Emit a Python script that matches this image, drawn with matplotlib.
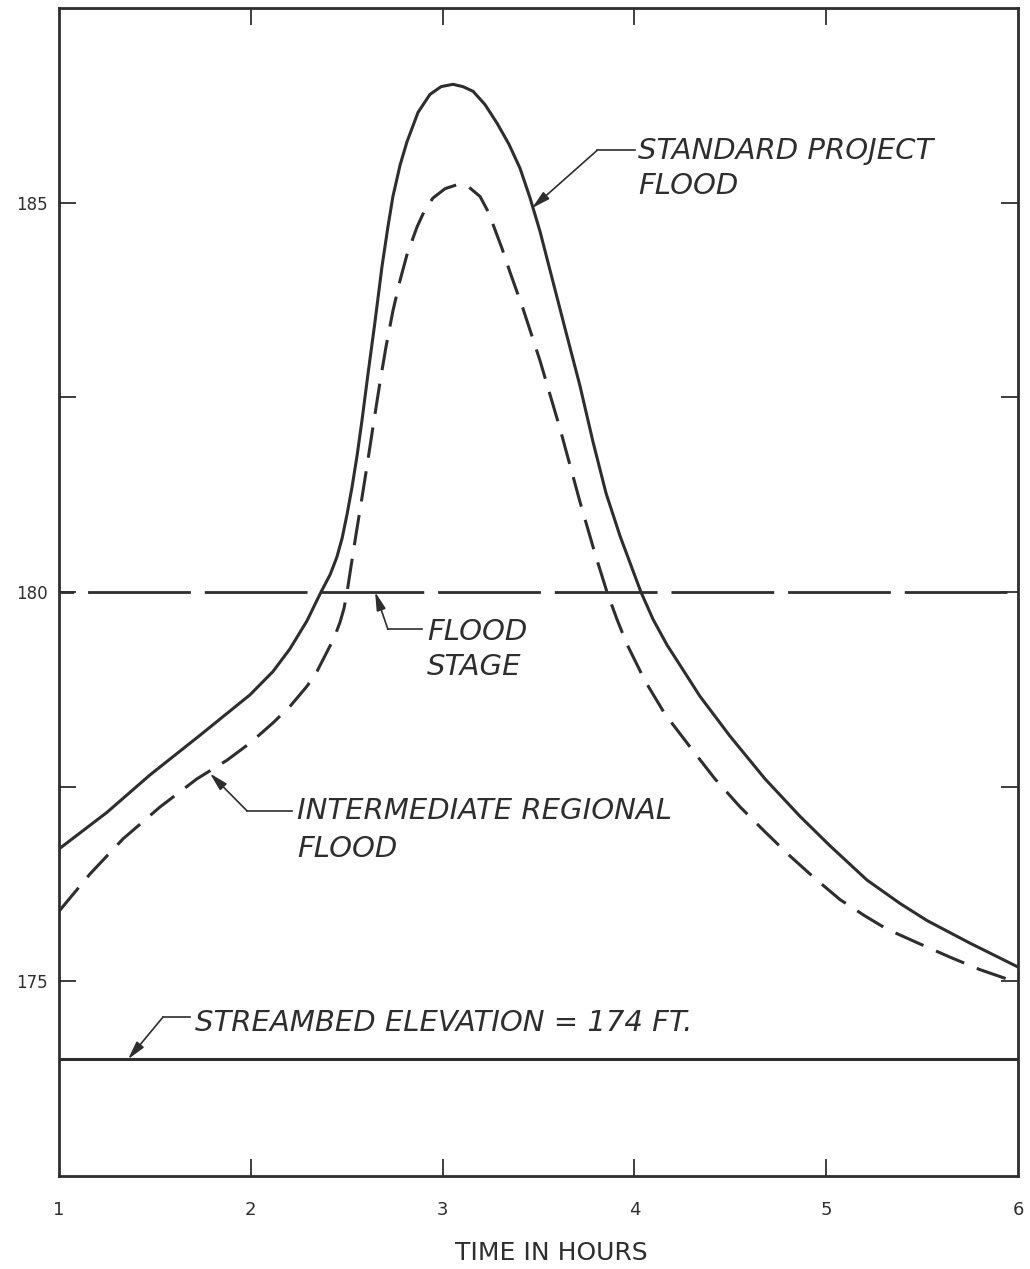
import matplotlib
matplotlib.use('Agg')
import matplotlib.pyplot as plt

# standard project flood (solid), stage in ft vs time in hours
spf_hours = [1.000, 1.250, 1.474, 1.735, 1.996, 2.116, 2.204, 2.293, 2.366, 2.413,
             2.449, 2.476, 2.502, 2.528, 2.554, 2.580, 2.611, 2.648, 2.684, 2.715,
             2.741, 2.778, 2.814, 2.872, 2.934, 2.992, 3.054, 3.106, 3.159, 3.221,
             3.284, 3.346, 3.404, 3.456, 3.508, 3.576, 3.643, 3.716, 3.784, 3.852,
             3.925, 3.993, 4.034, 4.097, 4.170, 4.264, 4.342, 4.498, 4.681, 4.863,
             5.020, 5.213, 5.385, 5.526, 5.750, 5.995]
spf_stage = [176.70, 177.17, 177.65, 178.16, 178.68, 178.98, 179.27, 179.63, 180.00, 180.22,
             180.45, 180.69, 181.00, 181.35, 181.75, 182.21, 182.80, 183.48, 184.18, 184.69,
             185.08, 185.48, 185.78, 186.16, 186.39, 186.49, 186.52, 186.49, 186.43, 186.26,
             186.02, 185.75, 185.44, 185.06, 184.63, 183.98, 183.34, 182.65, 181.93, 181.27,
             180.72, 180.27, 180.00, 179.65, 179.32, 178.96, 178.66, 178.15, 177.60, 177.12,
             176.74, 176.30, 176.00, 175.78, 175.49, 175.19]

# intermediate regional flood (dashed)
irf_hours = [1.000, 1.162, 1.334, 1.527, 1.719, 1.876, 1.996, 2.116, 2.204, 2.293,
             2.345, 2.397, 2.434, 2.465, 2.486, 2.502, 2.522, 2.548, 2.575, 2.606,
             2.637, 2.674, 2.705, 2.741, 2.778, 2.814, 2.867, 2.908, 2.950, 3.013,
             3.075, 3.132, 3.195, 3.232, 3.263, 3.310, 3.351, 3.419, 3.508, 3.612,
             3.716, 3.795, 3.857, 3.909, 3.961, 4.055, 4.160, 4.306, 4.420, 4.551,
             4.681, 4.811, 4.942, 5.072, 5.202, 5.317, 5.489, 5.646, 5.802, 5.943,
             5.995]
irf_stage = [175.90, 176.38, 176.83, 177.24, 177.60, 177.84, 178.06, 178.32, 178.53, 178.79,
             178.98, 179.23, 179.41, 179.61, 179.79, 180.00, 180.32, 180.73, 181.14, 181.62,
             182.12, 182.70, 183.15, 183.61, 184.00, 184.33, 184.69, 184.91, 185.06, 185.18,
             185.23, 185.21, 185.08, 184.91, 184.72, 184.41, 184.11, 183.64, 182.97, 182.10,
             181.16, 180.49, 180.00, 179.65, 179.33, 178.86, 178.43, 177.96, 177.60, 177.24,
             176.92, 176.61, 176.32, 176.05, 175.84, 175.67, 175.48, 175.31, 175.15, 175.03,
             175.00]

flood_stage = 180
streambed = 174

x_ticks = [1, 2, 3, 4, 5, 6]
x_ticklabels = ['1', '2', '3', '4', '5', '6']
y_ticks = [175, 180, 185]
y_ticklabels = ['175', '180', '185']
y_minor = [177.5, 182.5]

ink = '#2e2e2e'

fig = plt.figure(figsize=(10.3, 12.69), dpi=100)
ax = fig.add_axes([59/1030, 1 - 1176/1269, 959/1030, 1168/1269])

ax.plot(spf_hours, spf_stage, color=ink, lw=2.2, solid_joinstyle='round')
ax.plot(irf_hours, irf_stage, color=ink, lw=2.2, linestyle=(0, (10, 4.5)))
ax.plot([1, 6], [flood_stage, flood_stage], color=ink, lw=2.0, linestyle=(31.7, (37, 5)))
ax.plot([1, 6], [streambed, streambed], color=ink, lw=2.2)

ax.set_xlim(1, 6)
ax.set_ylim(172.5, 187.5)

ax.set_xticks(x_ticks, x_ticklabels)
ax.set_yticks(y_ticks, y_ticklabels)
ax.set_yticks(y_minor, minor=True)
ax.tick_params(axis='both', which='both', direction='in', length=12, width=1.3,
               color=ink, top=True, right=True)
ax.tick_params(axis='x', pad=18, labelsize=13, labelcolor=ink)
ax.tick_params(axis='y', pad=8, labelsize=12, labelcolor=ink)
# no tick marks at the axis ends
for t in ax.xaxis.get_major_ticks():
    if t.get_loc() in (1, 6):
        t.tick1line.set_visible(False)
        t.tick2line.set_visible(False)

for s in ax.spines.values():
    s.set_linewidth(2.0)
    s.set_color(ink)

ax.set_xlabel('TIME IN HOURS', fontsize=18, color=ink)
ax.xaxis.set_label_coords(0.513, -0.056)

txt = dict(fontsize=21, style='italic', color=ink, va='center', ha='left')


def callout(tip, elbow, end_x, lines, text_x, line_ys):
    ax.annotate('', xy=tip, xytext=elbow,
                arrowprops=dict(arrowstyle='-|>,head_length=1.1,head_width=0.28',
                                color=ink, lw=1.2, shrinkA=0, shrinkB=0))
    ax.plot([elbow[0], end_x], [elbow[1], elbow[1]], color=ink, lw=1.2)
    for s, y in zip(lines, line_ys):
        ax.text(text_x, y, s, **txt)


callout((3.466, 184.93), (3.805, 185.67), 4.003,
        ['STANDARD PROJECT', 'FLOOD'], 4.019, [185.66, 185.22])
callout((2.648, 180.0), (2.715, 179.52), 2.893,
        ['FLOOD', 'STAGE'], 2.919, [179.49, 179.04])
callout((1.787, 177.67), (1.980, 177.19), 2.215,
        ['INTERMEDIATE REGIONAL', 'FLOOD'], 2.241, [177.19, 176.70])
callout((1.360, 174.0), (1.542, 174.54), 1.683,
        ['STREAMBED ELEVATION = 174 FT.'], 1.709, [174.47])

fig.savefig('out.png', dpi=100)
